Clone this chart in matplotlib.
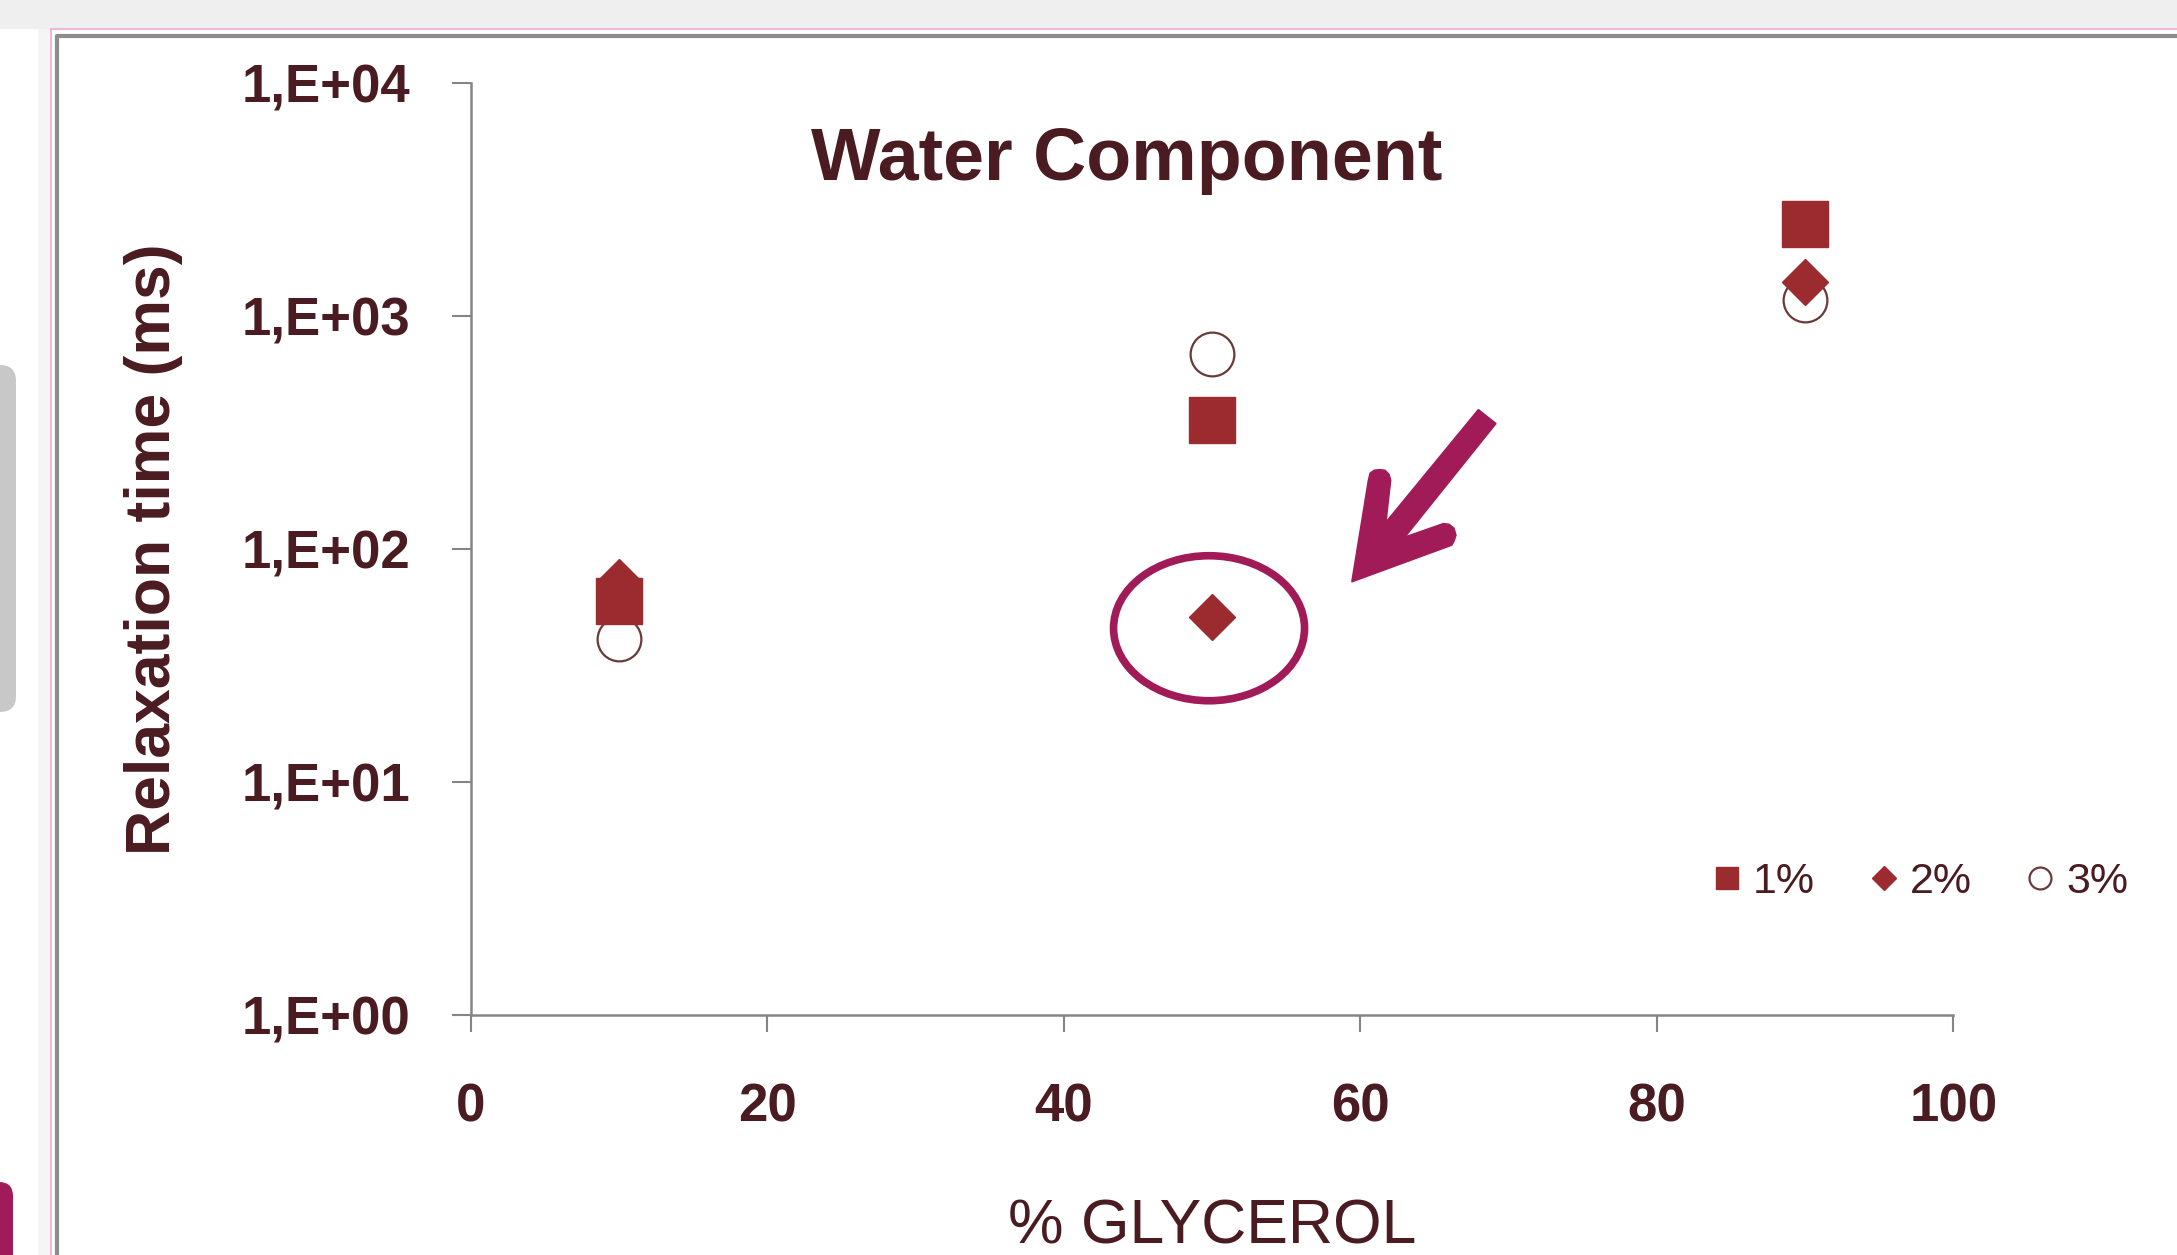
import numpy as np
import matplotlib
matplotlib.use("Agg")
import matplotlib.pyplot as plt
from matplotlib.patches import Ellipse, Polygon, FancyBboxPatch, Rectangle
from matplotlib.lines import Line2D
from matplotlib.transforms import ScaledTranslation, IdentityTransform
from matplotlib.ticker import FixedLocator, FuncFormatter, NullLocator

# valeurs
glycerol = [10, 50, 90]
conc_1 = [60, 360, 2500]
conc_2 = [72, 51, 1400]
conc_3 = [41, 690, 1175]
series_labels = ["1%", "2%", "3%"]
y_ticks = [1, 10, 100, 1000, 10000]
x_ticks = [0, 20, 40, 60, 80, 100]

TEXT = "#4a1c22"
MARK = "#9b2b2e"
ACCENT = "#a11b59"
W, H = 2177, 1255

plt.rcParams["font.family"] = ["Liberation Sans", "DejaVu Sans"]

fig = plt.figure(figsize=(W / 100, H / 100), dpi=100)
fig.patch.set_facecolor("white")

# cadre de la diapositive
fig.add_artist(Rectangle((0, 1 - 29 / H), 1, 29 / H, transform=fig.transFigure,
                         fc="#efefef", ec="none"))
fig.add_artist(Rectangle((38 / W, 0), 13 / W, 1 - 29 / H, transform=fig.transFigure,
                         fc="#f5f5f5", ec="none"))
fig.add_artist(Line2D([51 / W, 51 / W, 1], [0, 1 - 29 / H, 1 - 29 / H],
                      transform=fig.transFigure, color="#f2b8d6", lw=1.5))
fig.add_artist(Line2D([57 / W, 57 / W, 1], [0, 1 - 36 / H, 1 - 36 / H],
                      transform=fig.transFigure, color="#8c8c8c", lw=3))
fig.add_artist(FancyBboxPatch((-30, H - 712), 46, 347, boxstyle="round,pad=0,rounding_size=16",
                              transform=IdentityTransform(), fc="#c8c8c8", ec="none"))
fig.add_artist(FancyBboxPatch((-30, -30), 43, H - 1182 + 30, boxstyle="round,pad=0,rounding_size=14",
                              transform=IdentityTransform(), fc=ACCENT, ec="none"))

ax = fig.add_axes([0.2162, 0.1913, 0.6811, 0.7423])
ax.set_facecolor("none")

h3, = ax.plot(glycerol, conc_3, ls="none", marker="o", ms=31.5, mfc="white",
              mec="#6a3a3a", mew=1.6, clip_on=False, zorder=3)
h1, = ax.plot(glycerol, conc_1, ls="none", marker="s", ms=33, mfc=MARK,
              mec=MARK, clip_on=False, zorder=4)
h2, = ax.plot(glycerol, conc_2, ls="none", marker="D", ms=23.5, mfc=MARK,
              mec=MARK, clip_on=False, zorder=5)

ax.set_yscale("log")
ax.set_ylim(y_ticks[0], y_ticks[-1])
ax.set_xlim(x_ticks[0], x_ticks[-1])
ax.yaxis.set_major_locator(FixedLocator(y_ticks))
ax.yaxis.set_minor_locator(NullLocator())
ax.yaxis.set_major_formatter(FuncFormatter(lambda v, p: "1,E+%02d" % round(np.log10(v))))
ax.set_xticks(x_ticks)

for s in ["top", "right"]:
    ax.spines[s].set_visible(False)
for s in ["left", "bottom"]:
    ax.spines[s].set_color("#858585")
    ax.spines[s].set_linewidth(1.8)

ax.tick_params(axis="y", length=13.5, width=1.5, color="#858585", pad=30,
               labelsize=38, labelcolor=TEXT)
ax.tick_params(axis="x", length=12, width=1.5, color="#858585", pad=37,
               labelsize=38, labelcolor=TEXT)
for t in ax.get_xticklabels() + ax.get_yticklabels():
    t.set_fontweight("bold")

ax.set_ylabel("Relaxation time (ms)", fontsize=45, fontweight="bold", color=TEXT)
ax.yaxis.set_label_coords(-0.2136, 0.5)
ax.yaxis.label.set_va("center")
ax.set_xlabel("% GLYCEROL", fontsize=45, color=TEXT)
ax.xaxis.set_label_coords(0.5, -0.2275)
ax.xaxis.label.set_va("center")

fig.text(0.5177, 0.8566, "Water Component", fontsize=53, fontweight="bold",
         color=TEXT, ha="center", va="baseline")

ax.legend([h1, h2, h3], series_labels, ncol=3, loc="center",
          bbox_to_anchor=(0.8825, 0.297), bbox_transform=fig.transFigure,
          frameon=False, markerscale=0.5, fontsize=31, handlelength=0.6,
          handletextpad=0.3, columnspacing=1.3, labelcolor=TEXT)

# annotation: cercle + fleche autour du point 2% a 50%
anchor = fig.dpi_scale_trans + ScaledTranslation(glycerol[1], conc_2[1], ax.transData)
fig.add_artist(Ellipse((-0.03, -0.11), 1.91, 1.45, transform=anchor,
                       fill=False, ec=ACCENT, lw=5.5))
arrow_px = [(1351.7, 581.7), (1368.3, 480), (1370, 473), (1374, 470), (1379.3, 469.3),
            (1385, 470), (1389, 474), (1390.7, 480), (1386, 521.7), (1478.3, 409.3),
            (1496, 423.3), (1405, 536.7), (1443.3, 523.3), (1449, 524), (1454, 528),
            (1456, 535), (1454, 541), (1451.7, 545)]
ax0, ay0 = 1212, 617
arrow_in = [((x - ax0) / 100, (ay0 - y) / 100) for x, y in arrow_px]
fig.add_artist(Polygon(arrow_in, closed=True, transform=anchor, fc=ACCENT, ec=ACCENT, lw=1))

fig.savefig("out.png", dpi=100)
